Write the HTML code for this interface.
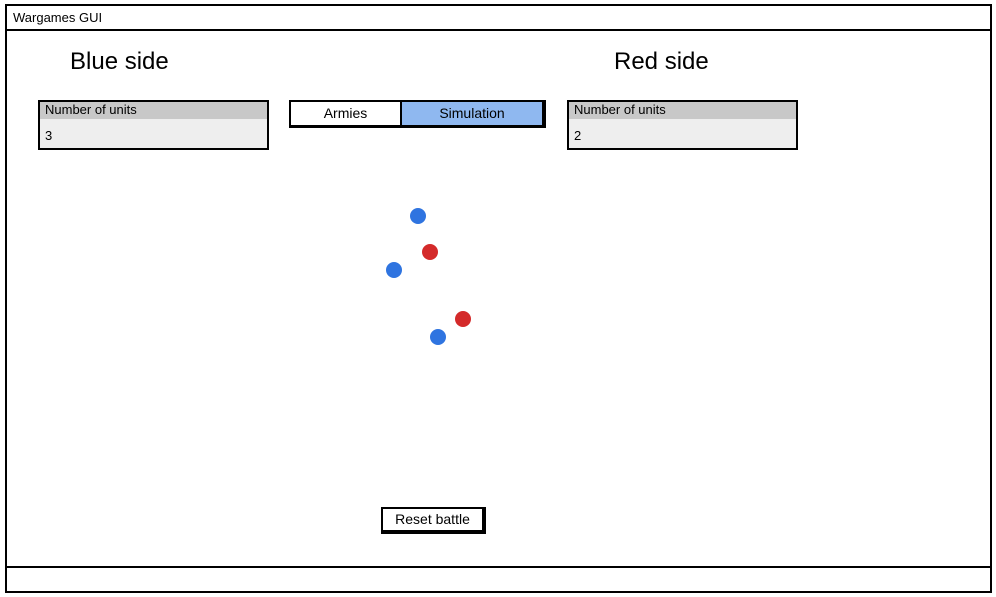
<!DOCTYPE html>
<html><head><meta charset="utf-8"><style>
body{margin:0;width:996px;height:597px;background:#fff;position:relative;font-family:"Liberation Sans",sans-serif;overflow:hidden}
div{position:absolute;box-sizing:border-box}
.t{font-size:14px;color:#000}
</style></head><body>
<div style="left:5px;top:4px;width:987px;height:589px;border:2px solid #000"></div>
<div style="left:5px;top:4px;width:987px;height:27px;border:2px solid #000;font-size:13px;padding:4px 0 0 6px">Wargames GUI</div>
<div style="left:5px;top:566px;width:987px;height:27px;border:2px solid #000"></div>
<div style="left:70px;top:48px;font-size:24px">Blue side</div>
<div style="left:614px;top:48px;font-size:24px">Red side</div>
<div style="left:38px;top:100px;width:231px;height:50px;border:2px solid #000;background:#eee">
 <div style="left:0;top:0;width:100%;height:17px;background:#c8c8c8;font-size:13px;padding:0 0 0 5px">Number of units</div>
 <div style="left:5px;top:26px;font-size:13px">3</div>
</div>
<div style="left:567px;top:100px;width:231px;height:50px;border:2px solid #000;background:#eee">
 <div style="left:0;top:0;width:100%;height:17px;background:#c8c8c8;font-size:13px;padding:0 0 0 5px">Number of units</div>
 <div style="left:5px;top:26px;font-size:13px">2</div>
</div>
<div style="left:289px;top:100px;width:257px;height:28px;border:2px solid #000;border-right-width:4px;border-bottom-width:3px"></div>
<div style="left:291px;top:102px;width:109px;height:23px;background:#fff;font-size:14px;text-align:center;line-height:22px">Armies</div>
<div style="left:400px;top:102px;width:142px;height:23px;background:#8fb8f0;border-left:2px solid #000;font-size:14px;text-align:center;line-height:22px">Simulation</div>
<svg style="position:absolute;left:0;top:0" width="996" height="597">
<circle cx="418" cy="216" r="8" fill="#2f74e0"/>
<circle cx="394" cy="270" r="8" fill="#2f74e0"/>
<circle cx="438" cy="337" r="8" fill="#2f74e0"/>
<circle cx="430" cy="252" r="8" fill="#d42a2a"/>
<circle cx="463" cy="319" r="8" fill="#d42a2a"/>
</svg>
<div style="left:381px;top:507px;width:105px;height:27px;border:2px solid #000;border-right-width:4px;border-bottom-width:4px;background:#fff;font-size:14px;text-align:center;line-height:21px">Reset battle</div>
</body></html>
